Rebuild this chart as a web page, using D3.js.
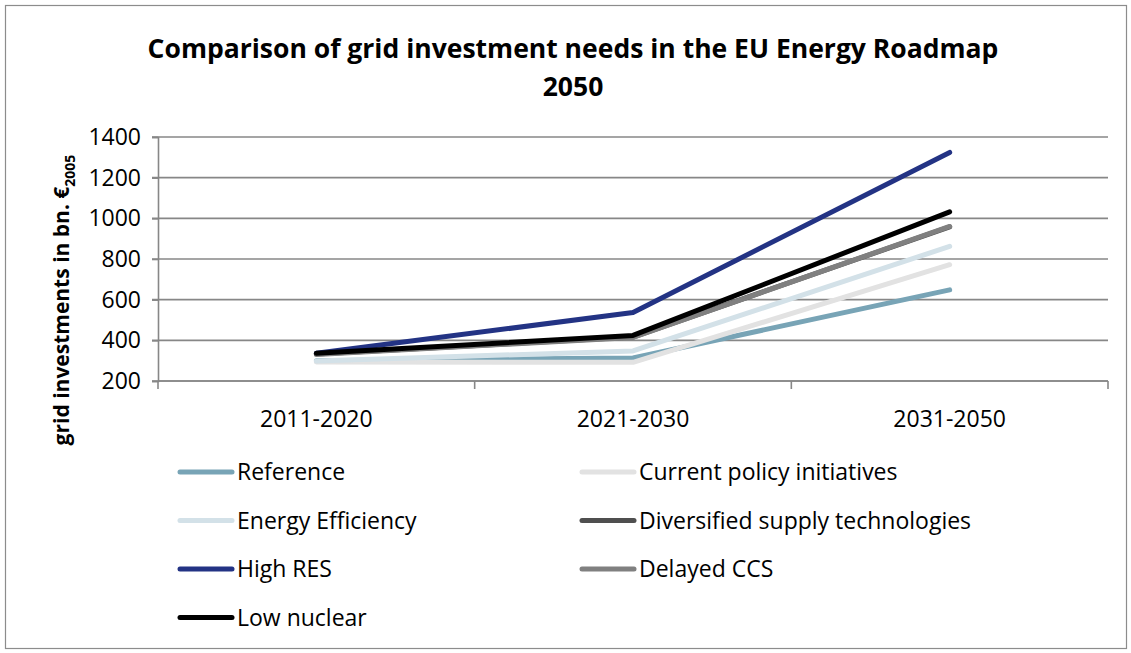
<!DOCTYPE html>
<html lang="en">
  <head>
    <title>Grid investment needs</title>
    <meta charset="utf-8" />
    <script src="https://d3js.org/d3.v7.min.js"></script>
    <style>
      body { margin: 0; background: #ffffff; }
      text { font-family: "Open Sans", "Noto Sans", sans-serif; fill: #000; }
    </style>
  </head>
  <body>
    <svg width="1131" height="653" xmlns="http://www.w3.org/2000/svg" id="target"></svg>
    <script>
        // data
        const categories = ["2011-2020", "2021-2030", "2031-2050"];
        const seriesNames = ["Reference", "Current policy initiatives", "Energy Efficiency",
          "Diversified supply technologies", "High RES", "Delayed CCS", "Low nuclear"];
        const reference   = [300, 313, 648];
        const currentPol  = [293, 292, 772];
        const energyEff   = [298, 348, 862];
        const diversified = [333, 416, 958];
        const highRes     = [336, 537, 1324];
        const delayedCcs  = [330, 414, 960];
        const lowNuclear  = [336, 424, 1032];
        const yTicks = [200, 400, 600, 800, 1000, 1200, 1400];

        const seriesValues = [reference, currentPol, energyEff, diversified, highRes, delayedCcs, lowNuclear];
        const colors = ["#78a4b6", "#e2e2e2", "#d3e1e8", "#4f4f4f", "#233384", "#808080", "#000000"];

        const plot = { left: 158, right: 1108, top: 137, bottom: 381 };
        const fontSize = 23;
        const svg = d3.select("#target");

        // chart border
        svg.append("rect")
          .attr("x", 5.5).attr("y", 5.5)
          .attr("width", 1121).attr("height", 643)
          .attr("fill", "#ffffff")
          .attr("stroke", "#8c8c8c")
          .attr("stroke-width", 1.2)
        ;

        const x = d3.scaleBand()
          .domain(categories)
          .range([plot.left, plot.right])
        ;
        const y = d3.scaleLinear()
          .domain([200, 1400])
          .range([plot.bottom, plot.top])
        ;

        // gridlines
        svg.append("g")
          .selectAll("line")
          .data(yTicks)
          .enter()
          .append("line")
          .attr("x1", plot.left - 6)
          .attr("x2", plot.right)
          .attr("y1", d => y(d))
          .attr("y2", d => y(d))
          .attr("stroke", "#878787")
          .attr("stroke-width", 1.6)
        ;

        // y axis
        const yAxis = svg.append("g")
          .attr("transform", "translate(" + plot.left + ",0)")
          .call(d3.axisLeft(y).tickValues(yTicks).tickFormat(d3.format("d")).tickSize(6).tickPadding(11))
        ;
        yAxis.select(".domain").attr("stroke", "#878787").attr("stroke-width", 1.6);
        yAxis.selectAll(".tick line").attr("stroke", "#878787").attr("stroke-width", 1.6);
        yAxis.selectAll(".tick text")
          .attr("font-size", fontSize)
          .attr("font-family", "Open Sans, sans-serif")
          .attr("fill", "#000")
        ;

        // x axis with ticks at category boundaries
        const xAxisG = svg.append("g");
        xAxisG.append("line")
          .attr("x1", plot.left).attr("x2", plot.right)
          .attr("y1", plot.bottom).attr("y2", plot.bottom)
          .attr("stroke", "#878787").attr("stroke-width", 1.6)
        ;
        const boundaries = categories.map(c => x(c)).concat([x(categories[categories.length - 1]) + x.bandwidth()]);
        xAxisG.selectAll("line.tk")
          .data(boundaries)
          .enter()
          .append("line")
          .attr("class", "tk")
          .attr("x1", d => d).attr("x2", d => d)
          .attr("y1", plot.bottom).attr("y2", plot.bottom + 8)
          .attr("stroke", "#878787").attr("stroke-width", 1.6)
        ;
        xAxisG.selectAll("text")
          .data(categories)
          .enter()
          .append("text")
          .attr("x", d => x(d) + x.bandwidth() / 2)
          .attr("y", 427)
          .attr("text-anchor", "middle")
          .attr("font-size", fontSize)
          .text(d => d)
        ;

        // lines
        const line = d3.line()
          .x((d, i) => x(categories[i]) + x.bandwidth() / 2)
          .y(d => y(d))
        ;
        svg.append("g")
          .selectAll("path")
          .data(seriesValues)
          .enter()
          .append("path")
          .attr("d", d => line(d))
          .attr("fill", "none")
          .attr("stroke", (d, i) => colors[i])
          .attr("stroke-width", 5)
          .attr("stroke-linecap", "round")
          .attr("stroke-linejoin", "round")
        ;

        // title
        const title = svg.append("g").attr("font-weight", "bold");
        const t1 = title.append("text")
          .attr("x", 573).attr("y", 58)
          .attr("text-anchor", "middle")
          .attr("font-size", 26)
          .attr("font-weight", "bold")
          .text("Comparison of grid investment needs in the EU Energy Roadmap")
        ;
        const w = t1.node().getComputedTextLength();
        const fs = 26 * 851 / w;
        t1.attr("font-size", fs);
        title.append("text")
          .attr("x", 573).attr("y", 96)
          .attr("text-anchor", "middle")
          .attr("font-size", fs)
          .attr("font-weight", "bold")
          .text("2050")
        ;

        // y axis title
        const yt = svg.append("text")
          .attr("transform", "translate(69,300) rotate(-90)")
          .attr("text-anchor", "middle")
          .attr("font-size", 21)
          .attr("font-weight", "bold")
        ;
        yt.append("tspan").text("grid investments in bn. €");
        yt.append("tspan").attr("font-size", 14).attr("dy", 6).text("2005");

        // legend
        const legendPos = seriesNames.map((n, i) => ({
          name: n,
          color: colors[i],
          col: i % 2,
          row: Math.floor(i / 2)
        }));
        const leg = svg.append("g")
          .selectAll("g")
          .data(legendPos)
          .enter()
          .append("g")
          .attr("transform", d => "translate(" + (d.col === 0 ? 180 : 582) + "," + (472 + d.row * 48.5) + ")")
        ;
        leg.append("line")
          .attr("x1", 0).attr("x2", 52)
          .attr("y1", 0).attr("y2", 0)
          .attr("stroke", d => d.color)
          .attr("stroke-width", 5)
          .attr("stroke-linecap", "round")
        ;
        leg.append("text")
          .attr("x", 57)
          .attr("y", 8)
          .attr("font-size", fontSize)
          .text(d => d.name)
        ;
    </script>
  </body>
</html>
